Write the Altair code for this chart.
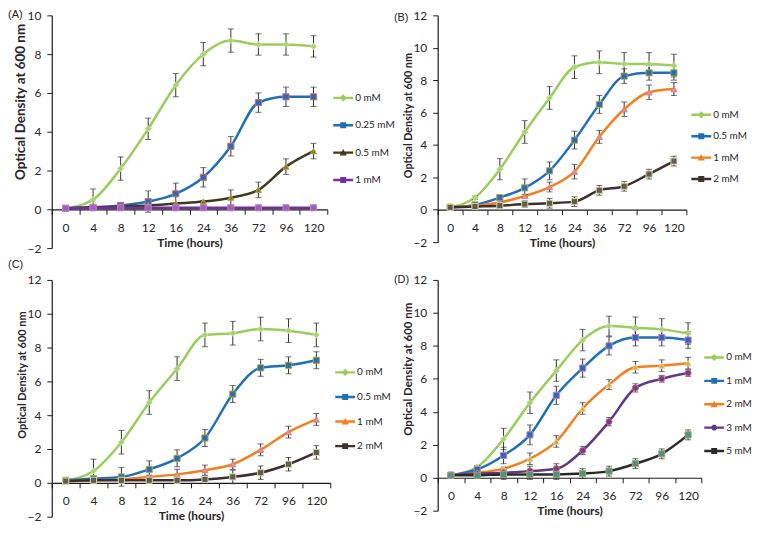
import altair as alt
import pandas as pd

times = ["0", "4", "8", "12", "16", "24", "36", "72", "96", "120"]

# ---- Panel A ----
A_series = ["0 mM", "0.25 mM", "0.5 mM", "1 mM"]
A_vals = [
    [0.05, 0.5, 2.1, 4.15, 6.4, 8.0, 8.7, 8.5, 8.5, 8.4],
    [0.05, 0.1, 0.2, 0.4, 0.8, 1.65, 3.25, 5.5, 5.8, 5.8],
    [0.05, 0.1, 0.15, 0.2, 0.3, 0.4, 0.6, 1.0, 2.2, 3.0],
    [0.05, 0.08, 0.08, 0.08, 0.08, 0.08, 0.08, 0.08, 0.08, 0.08],
]
A_err = [
    [0, 0.55, 0.6, 0.55, 0.6, 0.6, 0.6, 0.55, 0.55, 0.55],
    [0, 0.1, 0.15, 0.55, 0.55, 0.5, 0.5, 0.5, 0.5, 0.5],
    [0, 0, 0, 0, 0, 0.05, 0.4, 0.4, 0.4, 0.4],
    [0, 0, 0, 0, 0, 0, 0, 0, 0, 0],
]

# ---- Panel B ----
B_series = ["0 mM", "0.5 mM", "1 mM", "2 mM"]
B_vals = [
    [0.15, 0.75, 2.5, 4.8, 6.9, 8.8, 9.1, 9.0, 9.0, 8.9],
    [0.15, 0.3, 0.75, 1.35, 2.4, 4.3, 6.5, 8.25, 8.45, 8.45],
    [0.15, 0.25, 0.45, 0.85, 1.4, 2.35, 4.5, 6.2, 7.25, 7.45],
    [0.15, 0.2, 0.25, 0.35, 0.4, 0.5, 1.2, 1.45, 2.2, 3.0],
]
B_err = [
    [0, 0.1, 0.65, 0.7, 0.7, 0.7, 0.7, 0.7, 0.7, 0.7],
    [0, 0.1, 0.15, 0.55, 0.55, 0.55, 0.55, 0.45, 0.45, 0.45],
    [0, 0, 0.1, 0.1, 0.3, 0.45, 0.4, 0.45, 0.45, 0.4],
    [0.1, 0.1, 0.1, 0.2, 0.3, 0.3, 0.3, 0.3, 0.3, 0.3],
]

# ---- Panel C ----
C_series = ["0 mM", "0.5 mM", "1 mM", "2 mM"]
C_vals = [
    [0.15, 0.7, 2.4, 4.75, 6.75, 8.75, 8.85, 9.1, 9.0, 8.75],
    [0.15, 0.25, 0.35, 0.8, 1.45, 2.65, 5.25, 6.8, 6.95, 7.25],
    [0.1, 0.15, 0.2, 0.35, 0.5, 0.75, 1.1, 1.95, 3.0, 3.75],
    [0.1, 0.15, 0.15, 0.15, 0.15, 0.2, 0.35, 0.6, 1.1, 1.8],
]
C_err = [
    [0, 0.7, 0.7, 0.7, 0.7, 0.7, 0.7, 0.7, 0.7, 0.7],
    [0, 0.1, 0.55, 0.5, 0.5, 0.5, 0.5, 0.5, 0.5, 0.5],
    [0, 0, 0, 0.1, 0.3, 0.3, 0.3, 0.35, 0.35, 0.35],
    [0, 0.1, 0.1, 0.1, 0.1, 0.2, 0.4, 0.4, 0.4, 0.4],
]

# ---- Panel D ----
D_series = ["0 mM", "1 mM", "2 mM", "3 mM", "5 mM"]
D_vals = [
    [0.15, 0.65, 2.35, 4.55, 6.5, 8.35, 9.2, 9.1, 9.0, 8.75],
    [0.15, 0.5, 1.35, 2.6, 5.0, 6.65, 8.0, 8.5, 8.5, 8.35],
    [0.15, 0.3, 0.55, 1.15, 2.2, 4.2, 5.65, 6.7, 6.8, 6.95],
    [0.15, 0.25, 0.3, 0.4, 0.55, 1.65, 3.4, 5.45, 6.0, 6.35],
    [0.15, 0.15, 0.2, 0.2, 0.2, 0.25, 0.4, 0.85, 1.45, 2.6],
]
D_err = [
    [0, 0.1, 0.65, 0.65, 0.65, 0.65, 0.6, 0.65, 0.65, 0.65],
    [0, 0.1, 0.5, 0.6, 0.55, 0.55, 0.55, 0.5, 0.5, 0.5],
    [0, 0.1, 0.1, 0.35, 0.35, 0.35, 0.3, 0.35, 0.35, 0.35],
    [0, 0.1, 0.1, 0.3, 0.3, 0.25, 0.25, 0.25, 0.2, 0.2],
    [0, 0.1, 0.3, 0.3, 0.3, 0.3, 0.3, 0.3, 0.3, 0.3],
]

# ---- styles ----
GREEN, BLUE, ORANGE = "#9acd5a", "#1f6fb6", "#f28020"
A_line = [GREEN, BLUE, "#3f3a1f", "#7030a0"]
A_fill = ["#a6d46a", "#2a6db2", "#7f7f2a", "#9c64b8"]
A_stroke = ["#c4e29c", "#d46a78", "#a8a848", "#c77ac8"]
A_shape = ["diamond", "square", "triangle-up", "square"]

B_line = [GREEN, BLUE, ORANGE, "#3d302c"]
B_fill = ["#a6d46a", "#2a6db2", "#f59a2c", "#6b5552"]
B_stroke = ["#c4e29c", "#d46a78", "#f5c23e", "#9a8080"]
B_shape = ["diamond", "square", "triangle-up", "square"]

D_line = [GREEN, BLUE, ORANGE, "#5e3a85", "#2a2a2a"]
D_fill = ["#a6d46a", "#2a6db2", "#f59a2c", "#6b3f91", "#4b8ea0"]
D_stroke = ["#c4e29c", "#2a6db2", "#f5c23e", "#6b3f91", "#2b3b40"]
D_shape = ["diamond", "square", "triangle-up", "circle", "square"]

LINE = "M-1,-0.12H1V0.12H-1Z"
LEG = {
    "diamond": LINE + "M0,-0.36L0.36,0L0,0.36L-0.36,0Z",
    "square": LINE + "M-0.3,-0.3H0.3V0.3H-0.3Z",
    "triangle-up": LINE + "M0,-0.36L0.36,0.3H-0.36Z",
    "circle": LINE + "M-0.12,-0.28H0.12L0.28,-0.12V0.12L0.12,0.28H-0.12L-0.28,0.12V-0.12Z",
}

FONT = "Lato"
TXT = "#262626"


def panel(label, label_dy, series, vals, errs, lcol, fcol, scol, shapes,
          ymax, width, height, lx, ly, rowpad, ytitle_size, ytitle_frac):
    rows = []
    for s, v, e in zip(series, vals, errs):
        for t, vv, ee in zip(times, v, e):
            rows.append({"series": s, "time": t, "od": vv, "lo": vv - ee, "hi": vv + ee, "err": ee})
    df = pd.DataFrame(rows)
    caps = pd.concat([
        df[df.err > 0].assign(cap=lambda d: d.lo),
        df[df.err > 0].assign(cap=lambda d: d.hi),
    ])
    off = -round(height * 2 / (ymax + 2), 1)
    xenc = alt.X("time:N", sort=times,
                 scale=alt.Scale(type="band", paddingInner=0, paddingOuter=0),
                 axis=alt.Axis(title="Time (hours)", offset=off, labelAngle=0,
                               tickBand="extent", tickSize=5, labelPadding=8,
                               titlePadding=4, titleFontSize=12))
    yscale = alt.Scale(domain=[-2, ymax], nice=False, zero=False)
    yaxis = alt.Axis(values=list(range(-2, ymax + 1, 2)), title="Optical Density at 600 nm",
                     tickSize=5, labelPadding=6, titlePadding=-1,
                     titleFontSize=ytitle_size, titleY=height * ytitle_frac)

    def Y(f):
        return alt.Y(f, scale=yscale, axis=yaxis)

    base = alt.Chart(df)
    lines = base.mark_line(interpolate="monotone", strokeWidth=2.5).encode(
        x=xenc, y=Y("od:Q"),
        color=alt.Color("series:N", scale=alt.Scale(domain=series, range=lcol), legend=None),
        detail="series:N")
    rules = base.transform_filter("datum.err > 0").mark_rule(color="#333333", strokeWidth=1).encode(
        x=xenc, y=Y("lo:Q"), y2="hi:Q")
    ticks = alt.Chart(caps).mark_tick(color="#333333", size=6, thickness=1).encode(
        x=xenc, y=Y("cap:Q"))
    pts = base.mark_point(filled=True, opacity=1, size=38, strokeWidth=1).encode(
        x=xenc, y=Y("od:Q"),
        color=alt.Color("series:N", scale=alt.Scale(domain=series, range=fcol), legend=None),
        stroke=alt.Stroke("series:N", scale=alt.Scale(domain=series, range=scol), legend=None),
        shape=alt.Shape("series:N", scale=alt.Scale(domain=series, range=shapes), legend=None))
    leg = dict(title=None, orient="none", legendX=lx, legendY=ly, symbolSize=400,
               symbolStrokeWidth=0, labelFont=FONT, labelFontSize=10, labelColor=TXT,
               labelOffset=2, rowPadding=rowpad, padding=0)
    legend_layer = base.transform_filter("false").mark_point(filled=True, opacity=1).encode(
        x=xenc, y=Y("od:Q"),
        color=alt.Color("series:N", scale=alt.Scale(domain=series, range=lcol), legend=alt.Legend(**leg)),
        shape=alt.Shape("series:N", scale=alt.Scale(domain=series, range=[LEG[s] for s in shapes]),
                        legend=alt.Legend(**leg)))
    lab = alt.Chart(pd.DataFrame({"t": [label]})).mark_text(
        align="left", baseline="middle", font="Liberation Sans", fontSize=11, color=TXT).encode(
        text="t:N", x=alt.value(-44), y=alt.value(label_dy))
    return alt.layer(lines, rules, ticks, pts, legend_layer, lab).resolve_scale(
        color="independent", shape="independent").properties(width=width, height=height)


pA = panel("(A)", 0, A_series, A_vals, A_err, A_line, A_fill, A_stroke, A_shape,
           10, 277, 234, 283, 73, 12.5, 13.5, 0.37)
pB = panel("(B)", 3, B_series, B_vals, B_err, B_line, B_fill, B_stroke, B_shape,
           12, 250, 228, 255, 90, 6.5, 10.8, 0.44)
pC = panel("(C)", -15, C_series, C_vals, C_err, B_line, B_fill, B_stroke, B_shape,
           12, 280, 238, 285, 83, 9.7, 11, 0.40)
pD = panel("(D)", 0, D_series, D_vals, D_err, D_line, D_fill, D_stroke, D_shape,
           12, 265, 232, 268, 68, 8.5, 11.5, 0.385)

chart = alt.concat(pA, pB, pC, pD, columns=2,
                   spacing=alt.RowColnumber(row=32, column=108), bounds="flush").properties(
    padding=0
).configure_view(stroke=None).configure_axis(
    labelFont=FONT, labelFontSize=12, labelColor=TXT, titleFont=FONT, titleFontWeight="bold",
    titleColor=TXT, domainColor="#1a1a1a", tickColor="#1a1a1a", grid=False, domainWidth=1.2)

chart.save("out.html", embed_options={"renderer": "svg", "actions": False})
